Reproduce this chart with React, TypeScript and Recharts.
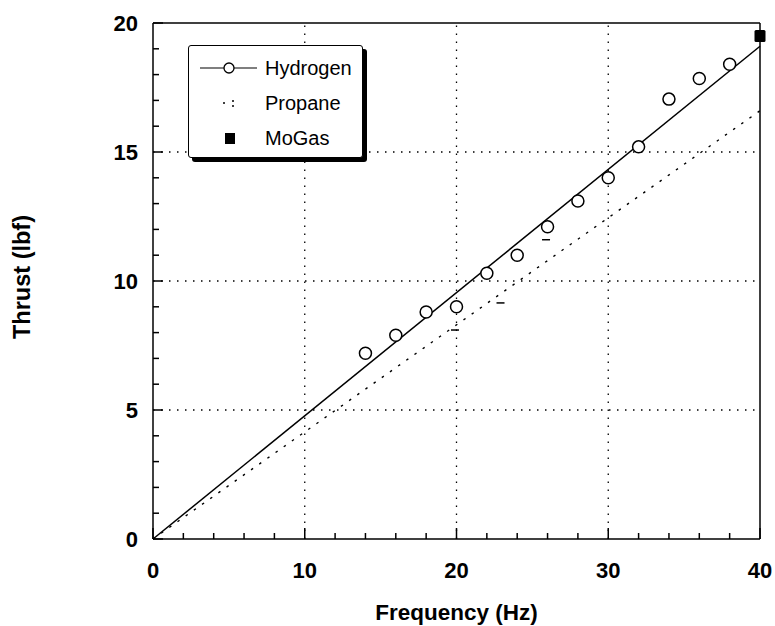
import React from "react";
import { ComposedChart, Scatter, XAxis, YAxis, ReferenceLine } from "recharts";

const frequencyHz = [14, 16, 18, 20, 22, 24, 26, 28, 30, 32, 34, 36, 38];
const hydrogenThrust = [7.2, 7.9, 8.8, 9.0, 10.3, 11.0, 12.1, 13.1, 14.0, 15.2, 17.05, 17.85, 18.4];
const fitFrequency = [0, 40];
const hydrogenFit = [0, 19.1];
const propaneFit = [0, 16.6];
const propaneFrequency = [19.9, 22.9, 25.9];
const propaneThrust = [8.1, 9.15, 11.6];
const mogasFrequency = [40];
const mogasThrust = [19.5];

const xTicks = [0, 2, 4, 6, 8, 10, 12, 14, 16, 18, 20, 22, 24, 26, 28, 30, 32, 34, 36, 38, 40];
const yTicks = [0, 1, 2, 3, 4, 5, 6, 7, 8, 9, 10, 11, 12, 13, 14, 15, 16, 17, 18, 19, 20];
const gridX = [10, 20, 30];
const gridY = [5, 10, 15];

const FONT = "'Liberation Sans', Arial, sans-serif";

const hydrogen = frequencyHz.map((x, i) => ({ x, y: hydrogenThrust[i] }));
const hydrogenLine = fitFrequency.map((x, i) => ({ x, y: hydrogenFit[i] }));
const propaneLine = fitFrequency.map((x, i) => ({ x, y: propaneFit[i] }));
const propane = propaneFrequency.map((x, i) => ({ x, y: propaneThrust[i] }));
const mogas = mogasFrequency.map((x, i) => ({ x, y: mogasThrust[i] }));

// ticks point inward from the frame, like the original plot
const BottomTick = ({ x, y, payload }: any) => {
  const major = payload.value % 10 === 0;
  return (
    <g>
      <line x1={x} x2={x} y1={y} y2={y - (major ? 11 : 6)} stroke="#000" strokeWidth={1.5} />
      {major && (
        <text x={x} y={y + 39} textAnchor="middle" fontFamily={FONT} fontWeight="bold" fontSize={22} fill="#000">
          {payload.value}
        </text>
      )}
    </g>
  );
};

const TopTick = ({ x, y, payload }: any) => {
  const major = payload.value % 10 === 0;
  return <line x1={x} x2={x} y1={y} y2={y + (major ? 11 : 6)} stroke="#000" strokeWidth={1.5} />;
};

const LeftTick = ({ x, y, payload }: any) => {
  const major = payload.value % 5 === 0;
  return (
    <g>
      <line x1={x} x2={x + (major ? 10 : 6)} y1={y} y2={y} stroke="#000" strokeWidth={1.5} />
      {major && (
        <text x={x - 15} y={y + 8} textAnchor="end" fontFamily={FONT} fontWeight="bold" fontSize={22} fill="#000">
          {payload.value}
        </text>
      )}
    </g>
  );
};

const RightTick = ({ x, y, payload }: any) => {
  const major = payload.value % 5 === 0;
  return <line x1={x} x2={x - (major ? 10 : 6)} y1={y} y2={y} stroke="#000" strokeWidth={1.5} />;
};

const XTitle = ({ viewBox }: any) => (
  <text x={viewBox.x + viewBox.width / 2} y={viewBox.y + 81} textAnchor="middle" fontFamily={FONT} fontWeight="bold" fontSize={22.5} fill="#000">
    Frequency (Hz)
  </text>
);

const YTitle = ({ viewBox }: any) => {
  const cy = viewBox.y + viewBox.height / 2 - 4;
  return (
    <text x={30} y={cy} transform={`rotate(-90 30 ${cy})`} textAnchor="middle" fontFamily={FONT} fontWeight="bold" fontSize={23.5} fill="#000">
      Thrust (lbf)
    </text>
  );
};

const Circle = ({ cx, cy }: any) => <circle cx={cx} cy={cy} r={6} fill="#fff" stroke="#000" strokeWidth={1.5} />;
const Dash = ({ cx, cy }: any) => <line x1={cx - 4} x2={cx + 4} y1={cy} y2={cy} stroke="#000" strokeWidth={1.5} />;
const Square = ({ cx, cy }: any) => <rect x={cx - 5.5} y={cy - 6} width={11} height={12} rx={1.5} fill="#000" />;
const NoShape = () => <g />;

function LegendBox() {
  const row = { position: "absolute" as const, left: 76, fontSize: 20, lineHeight: "20px", fontFamily: FONT };
  return (
    <div
      style={{
        position: "absolute",
        left: 188,
        top: 45,
        width: 175,
        height: 113,
        boxSizing: "border-box",
        border: "1.5px solid #000",
        borderRadius: 3,
        background: "#fff",
        boxShadow: "4px 4px 0 #000",
      }}
    >
      <svg width={172} height={110} style={{ position: "absolute", left: 0, top: 0 }}>
        <line x1={11} x2={68} y1={22} y2={22} stroke="#000" strokeWidth={1.2} />
        <circle cx={40} cy={22} r={5} fill="#fff" stroke="#000" strokeWidth={1.3} />
        <circle cx={35} cy={57} r={1} fill="#000" />
        <circle cx={44} cy={55} r={1} fill="#000" />
        <circle cx={44} cy={60} r={1} fill="#000" />
        <rect x={36} y={87} width={10} height={11} fill="#000" />
      </svg>
      <div style={{ ...row, top: 12 }}>Hydrogen</div>
      <div style={{ ...row, top: 47 }}>Propane</div>
      <div style={{ ...row, top: 82 }}>MoGas</div>
    </div>
  );
}

const axisLine = { stroke: "#000", strokeWidth: 1.5 };

export default function App() {
  return (
    <div style={{ position: "absolute", left: 0, top: 0, width: 775, height: 626, background: "#fff" }}>
      <ComposedChart width={775} height={626} margin={{ top: 22, right: 14, bottom: 86, left: 152 }}>
        <XAxis
          type="number"
          dataKey="x"
          domain={[0, 40]}
          ticks={xTicks}
          interval={0}
          height={1}
          tickSize={0}
          tickMargin={0}
          tick={<BottomTick />}
          tickLine={false}
          axisLine={axisLine}
          label={<XTitle />}
        />
        <XAxis
          xAxisId="top"
          orientation="top"
          type="number"
          dataKey="x"
          domain={[0, 40]}
          ticks={xTicks}
          interval={0}
          height={1}
          tickSize={0}
          tickMargin={0}
          tick={<TopTick />}
          tickLine={false}
          axisLine={axisLine}
        />
        <YAxis
          type="number"
          dataKey="y"
          domain={[0, 20]}
          ticks={yTicks}
          interval={0}
          width={1}
          tickSize={0}
          tickMargin={0}
          tick={<LeftTick />}
          tickLine={false}
          axisLine={axisLine}
          label={<YTitle />}
        />
        <YAxis
          yAxisId="right"
          orientation="right"
          type="number"
          dataKey="y"
          domain={[0, 20]}
          ticks={yTicks}
          interval={0}
          width={1}
          tickSize={0}
          tickMargin={0}
          tick={<RightTick />}
          tickLine={false}
          axisLine={axisLine}
        />
        {gridX.map(v => (
          <ReferenceLine key={`gx${v}`} x={v} stroke="#000" strokeWidth={1.3} strokeDasharray="1.5 6.5" />
        ))}
        {gridY.map(v => (
          <ReferenceLine key={`gy${v}`} y={v} stroke="#000" strokeWidth={1.3} strokeDasharray="1.5 6.5" />
        ))}
        <Scatter name="Propane fit" data={propaneLine} line={{ stroke: "#000", strokeWidth: 1.4, strokeDasharray: "2.5 7.5" }} shape={<NoShape />} isAnimationActive={false} />
        <Scatter name="Hydrogen fit" data={hydrogenLine} line={{ stroke: "#000", strokeWidth: 1.5 }} shape={<NoShape />} isAnimationActive={false} />
        <Scatter name="Propane" data={propane} shape={<Dash />} isAnimationActive={false} />
        <Scatter name="Hydrogen" data={hydrogen} shape={<Circle />} isAnimationActive={false} />
        <Scatter name="MoGas" data={mogas} shape={<Square />} isAnimationActive={false} />
      </ComposedChart>
      <LegendBox />
    </div>
  );
}
